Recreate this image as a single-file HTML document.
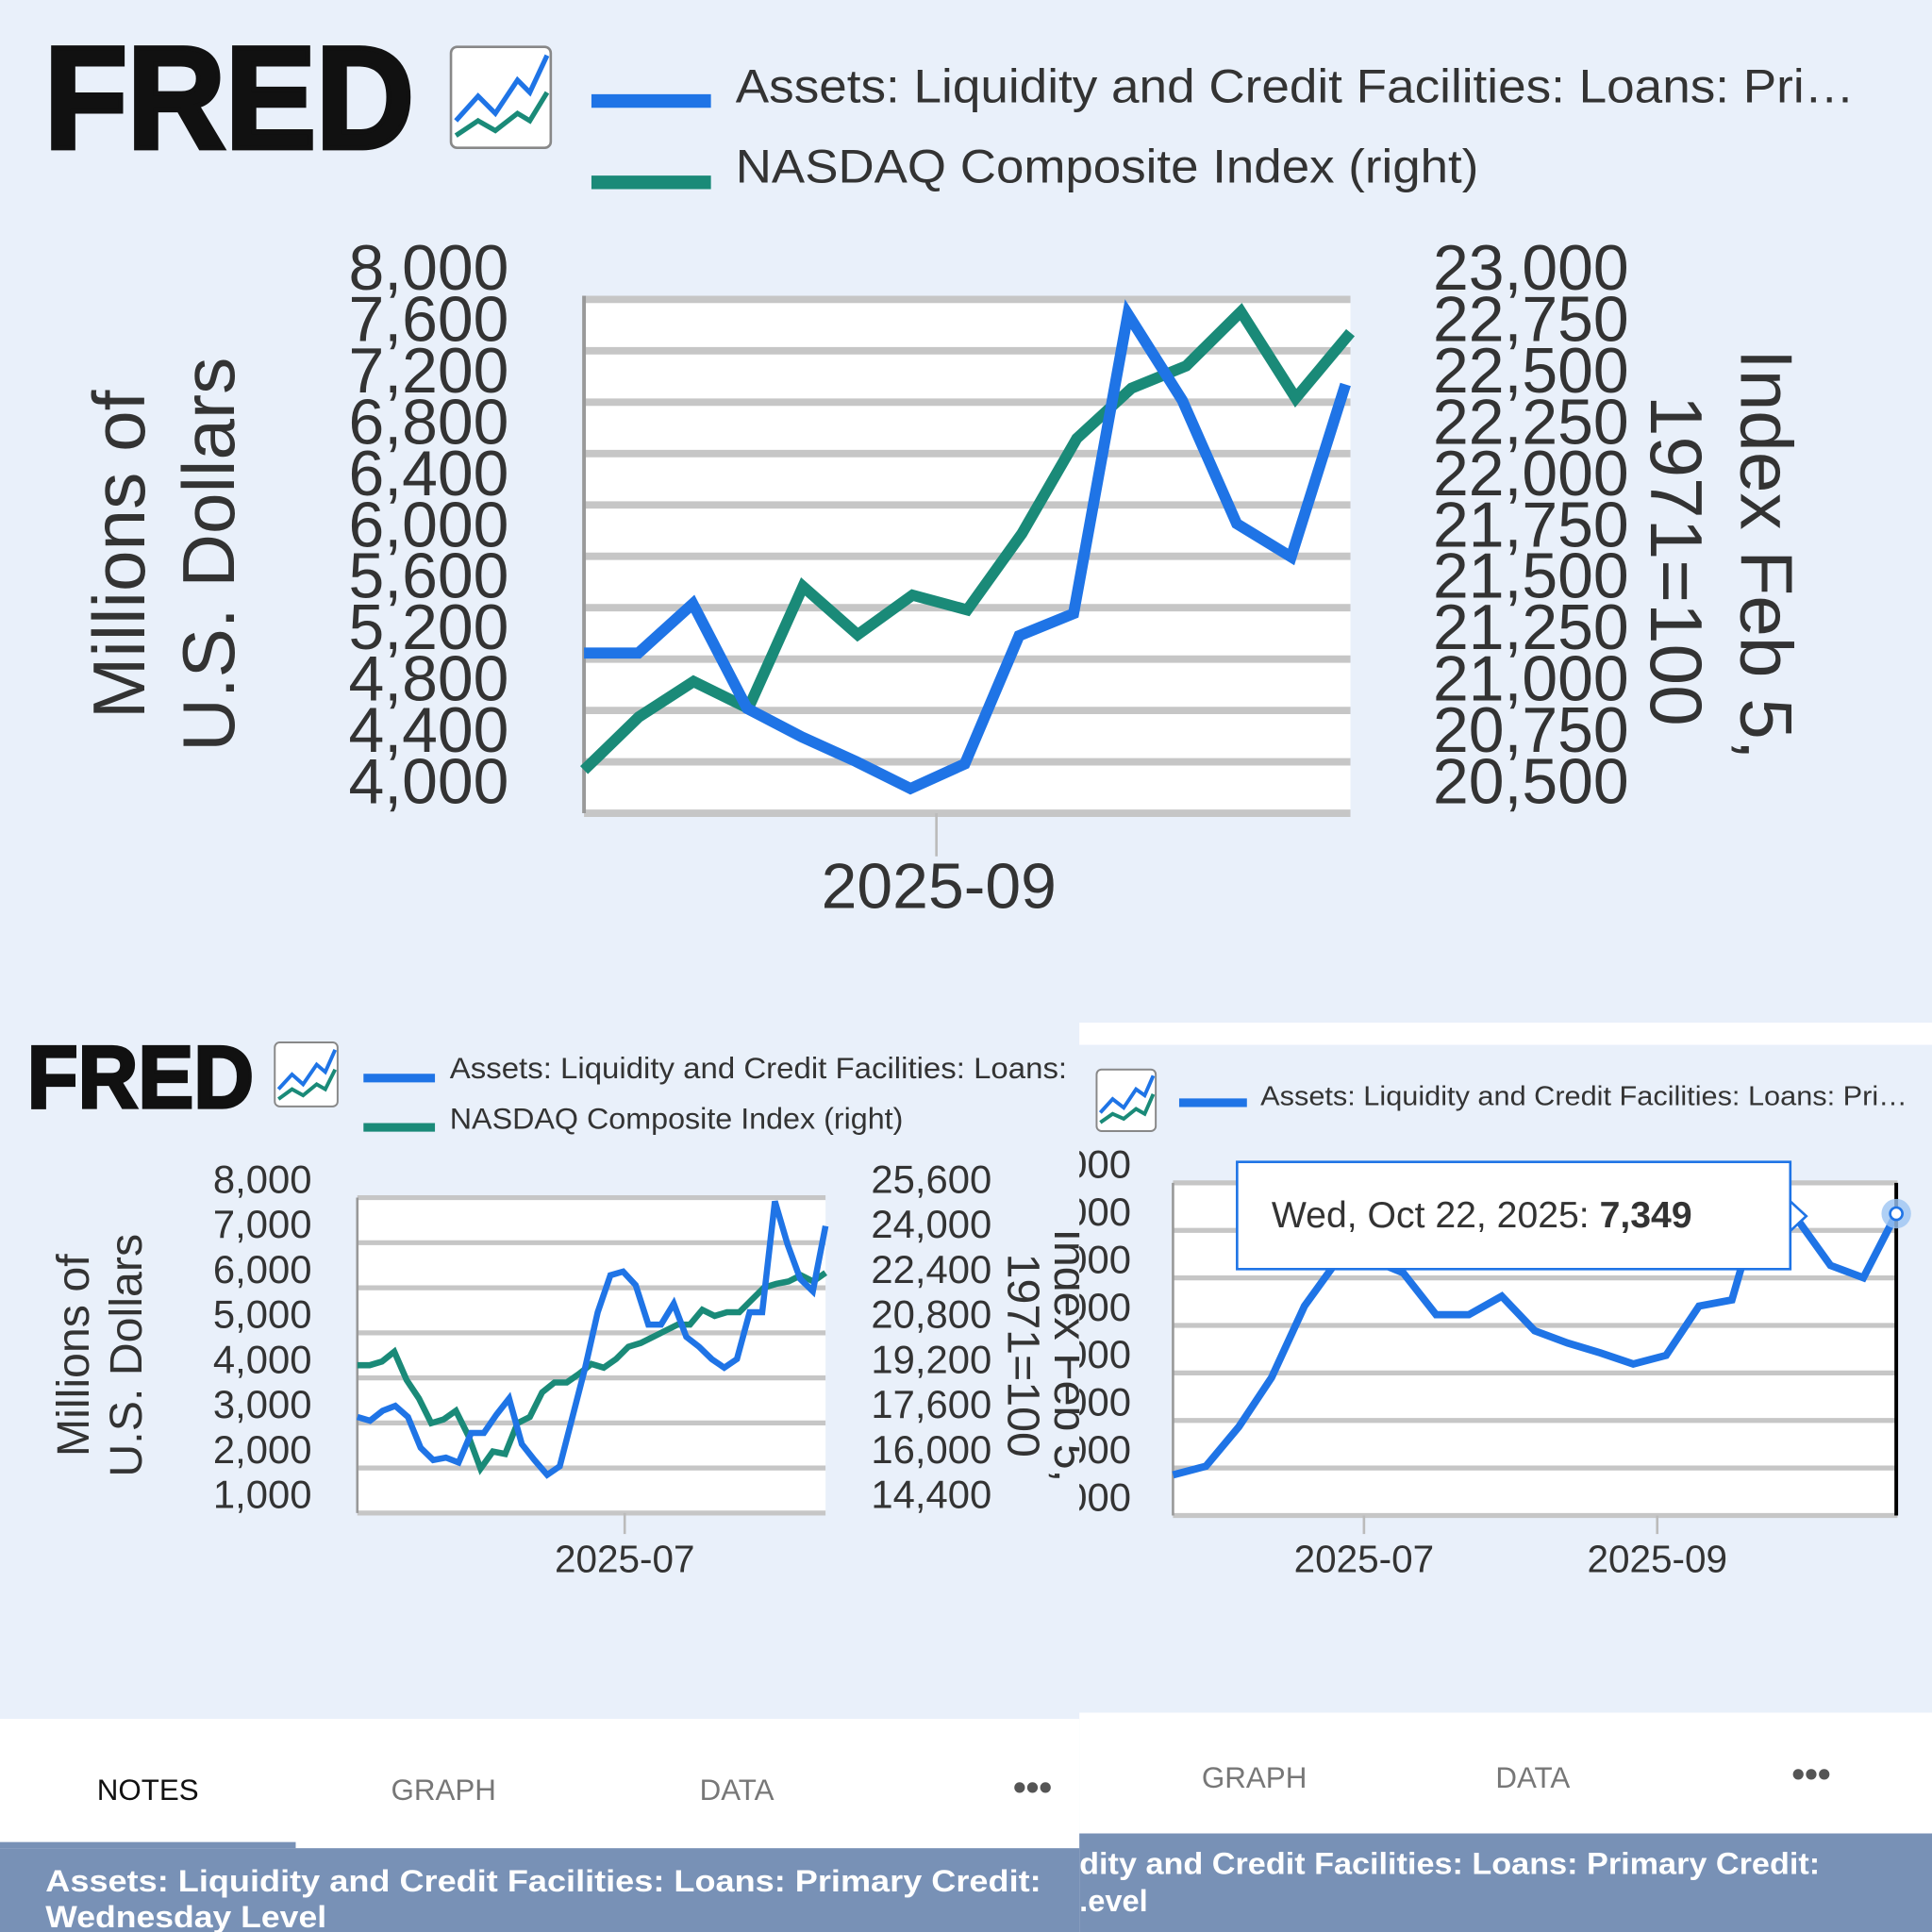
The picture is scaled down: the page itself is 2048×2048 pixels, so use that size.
<!DOCTYPE html>
<html><head><meta charset="utf-8">
<style>
html,body{margin:0;padding:0;background:#e9f0fa;}
svg{display:block;font-family:"Liberation Sans",sans-serif;}
</style></head>
<body>
<svg id="s" width="2048" height="2048" viewBox="0 0 1568 1568" xmlns="http://www.w3.org/2000/svg">
<defs><clipPath id="brClip"><rect x="876" y="830" width="692" height="560"/></clipPath></defs>
<rect x="0" y="0" width="1568" height="1568" fill="#e9f0fa"/>

<!-- TOP PANEL header -->
<text x="36" y="120" font-size="118" font-weight="bold" fill="#111" stroke="#111" stroke-width="4" textLength="300" lengthAdjust="spacingAndGlyphs">FRED</text>
<g>
<rect x="366" y="38" width="81" height="82" rx="5" fill="#fff" stroke="#888" stroke-width="2"/>
<polyline points="370,98 388,78 402,92 420,65 430,75 444,45" fill="none" stroke="#1f74e6" stroke-width="4"/>
<polyline points="370,110 388,98 402,106 420,92 430,98 444,75" fill="none" stroke="#1a8a78" stroke-width="4"/>
</g>
<g>
<line x1="480" y1="82" x2="577" y2="82" stroke="#1f74e6" stroke-width="11"/>
<text x="597" y="83" font-size="38" fill="#333" textLength="908" lengthAdjust="spacingAndGlyphs">Assets: Liquidity and Credit Facilities: Loans: Pri…</text>
<line x1="480" y1="148" x2="577" y2="148" stroke="#1f74e6" stroke-width="0"/>
<line x1="480" y1="148" x2="577" y2="148" stroke="#1a8a78" stroke-width="11"/>
<text x="597" y="148" font-size="38" fill="#333" textLength="603" lengthAdjust="spacingAndGlyphs">NASDAQ Composite Index (right)</text>
</g>
<rect x="474" y="240" width="622" height="420" fill="#fff"/>
<g id="topGrid"></g>
<line x1="474" y1="240" x2="474" y2="660" stroke="#999" stroke-width="3"/>
<line x1="760" y1="660" x2="760" y2="695" stroke="#bbb" stroke-width="2"/>
<text x="762" y="737" font-size="52" fill="#333" text-anchor="middle">2025-09</text>
<text transform="translate(117,450) rotate(-90)" font-size="60" fill="#333" text-anchor="middle">Millions of</text>
<text transform="translate(190,450) rotate(-90)" font-size="60" fill="#333" text-anchor="middle">U.S. Dollars</text>
<text transform="translate(1413,450) rotate(90)" font-size="60" fill="#333" text-anchor="middle">Index Feb 5,</text>
<text transform="translate(1340,455) rotate(90)" font-size="60" fill="#333" text-anchor="middle">1971=100</text>
<g id="topMarks"></g>

<!-- BOTTOM LEFT PANEL -->
<text x="22" y="899" font-size="72" font-weight="bold" fill="#111" stroke="#111" stroke-width="2.5" textLength="184" lengthAdjust="spacingAndGlyphs">FRED</text>
<g>
<rect x="223" y="846" width="51" height="52" rx="4" fill="#fff" stroke="#888" stroke-width="1.5"/>
<polyline points="226,884 237,872 246,880 257,864 264,870 272,852" fill="none" stroke="#1f74e6" stroke-width="3"/>
<polyline points="226,892 237,884 246,889 257,880 264,884 272,868" fill="none" stroke="#1a8a78" stroke-width="3"/>
</g>
<line x1="295" y1="875" x2="353" y2="875" stroke="#1f74e6" stroke-width="7"/>
<text x="365" y="875" font-size="24" fill="#333" textLength="501" lengthAdjust="spacingAndGlyphs">Assets: Liquidity and Credit Facilities: Loans:</text>
<line x1="295" y1="915" x2="353" y2="915" stroke="#1a8a78" stroke-width="7"/>
<text x="365" y="916" font-size="24" fill="#333" textLength="368" lengthAdjust="spacingAndGlyphs">NASDAQ Composite Index (right)</text>
<rect x="290" y="972" width="380" height="256" fill="#fff"/>
<g id="blGrid"></g>
<line x1="290" y1="972" x2="290" y2="1228" stroke="#999" stroke-width="2"/>
<line x1="507" y1="1228" x2="507" y2="1245" stroke="#bbb" stroke-width="2"/>
<text x="507" y="1276" font-size="31" fill="#333" text-anchor="middle">2025-07</text>
<text transform="translate(72,1100) rotate(-90)" font-size="37" fill="#333" text-anchor="middle">Millions of</text>
<text transform="translate(115,1100) rotate(-90)" font-size="37" fill="#333" text-anchor="middle">U.S. Dollars</text>
<text transform="translate(818,1100) rotate(90)" font-size="37" fill="#333" text-anchor="middle">1971=100</text>
<text transform="translate(856,1100) rotate(90)" font-size="37" fill="#333" text-anchor="middle">Index Feb 5,</text>
<g id="blMarks"></g>

<!-- BOTTOM RIGHT PANEL -->
<rect x="876" y="830" width="692" height="560" fill="#e9f0fa"/>
<rect x="876" y="830" width="692" height="18" fill="#fff"/>
<g>
<rect x="890" y="868" width="48" height="50" rx="4" fill="#fff" stroke="#888" stroke-width="1.5"/>
<polyline points="893,903 903,892 912,899 922,884 929,889 936,873" fill="none" stroke="#1f74e6" stroke-width="3"/>
<polyline points="893,911 903,904 912,908 922,900 929,904 936,888" fill="none" stroke="#1a8a78" stroke-width="3"/>
</g>
<line x1="957" y1="895" x2="1012" y2="895" stroke="#1f74e6" stroke-width="7"/>
<text x="1023" y="897" font-size="22" fill="#333" textLength="525" lengthAdjust="spacingAndGlyphs">Assets: Liquidity and Credit Facilities: Loans: Pri…</text>
<rect x="952" y="960" width="588" height="270" fill="#fff"/>
<g id="brGrid"></g>
<line x1="952" y1="960" x2="952" y2="1230" stroke="#999" stroke-width="2"/>
<line x1="1107" y1="1230" x2="1107" y2="1245" stroke="#bbb" stroke-width="2"/>
<line x1="1345" y1="1230" x2="1345" y2="1245" stroke="#bbb" stroke-width="2"/>
<text x="1107" y="1276" font-size="31" fill="#333" text-anchor="middle">2025-07</text>
<text x="1345" y="1276" font-size="31" fill="#333" text-anchor="middle">2025-09</text>
<g id="brMarks" clip-path="url(#brClip)"></g>
<line x1="1539" y1="960" x2="1539" y2="1230" stroke="#000" stroke-width="3"/>
<circle cx="1539" cy="985" r="12" fill="#9cc4f2" opacity="0.8"/>
<circle cx="1539" cy="985" r="5" fill="#fff" stroke="#1f74e6" stroke-width="2"/>
<g>
<rect x="1004" y="943" width="449" height="87" fill="#fff" stroke="#1f74e6" stroke-width="2"/>
<polygon points="1453,975 1466,987 1453,999" fill="#fff" stroke="#1f74e6" stroke-width="2"/>
<text x="1032" y="996" font-size="30" fill="#333">Wed, Oct 22, 2025:  <tspan font-weight="bold">7,349</tspan></text>
</g>

<!-- tabs -->
<rect x="0" y="1395" width="876" height="105" fill="#fff"/>
<text x="120" y="1461" font-size="24" fill="#111" text-anchor="middle">NOTES</text>
<text x="360" y="1461" font-size="24" fill="#777" text-anchor="middle">GRAPH</text>
<text x="598" y="1461" font-size="24" fill="#777" text-anchor="middle">DATA</text>
<text x="838" y="1461" font-size="30" fill="#555" text-anchor="middle" font-weight="bold">•••</text>
<rect x="876" y="1390" width="692" height="98" fill="#fff"/>
<text x="1018" y="1451" font-size="24" fill="#777" text-anchor="middle">GRAPH</text>
<text x="1244" y="1451" font-size="24" fill="#777" text-anchor="middle">DATA</text>
<text x="1470" y="1450" font-size="30" fill="#555" text-anchor="middle" font-weight="bold">•••</text>
<rect x="0" y="1500" width="876" height="68" fill="#7891b6"/>
<rect x="0" y="1495" width="240" height="5" fill="#7891b6"/>
<text x="37" y="1535" font-size="25" font-weight="bold" fill="#fff" textLength="808" lengthAdjust="spacingAndGlyphs">Assets: Liquidity and Credit Facilities: Loans: Primary Credit:</text>
<text x="37" y="1564" font-size="25" font-weight="bold" fill="#fff" textLength="228" lengthAdjust="spacingAndGlyphs">Wednesday Level</text>
<rect x="876" y="1488" width="692" height="80" fill="#7891b6"/>
<text x="876" y="1521" font-size="25" font-weight="bold" fill="#fff" textLength="601" lengthAdjust="spacingAndGlyphs">dity and Credit Facilities: Loans: Primary Credit:</text>
<text x="876" y="1551" font-size="25" font-weight="bold" fill="#fff">.evel</text>
</svg>
<script>
// ---- top chart data ----
const topLeftTicks = ["4,000","4,400","4,800","5,200","5,600","6,000","6,400","6,800","7,200","7,600","8,000"];
const topRightTicks = ["20,500","20,750","21,000","21,250","21,500","21,750","22,000","22,250","22,500","22,750","23,000"];
const topAssets = [5247,5247,5631,4815,4595,4403,4192,4384,5381,5554,7885,7213,6254,5995,7338];
const topNasdaq = [20710,20968,21141,21010,21603,21369,21561,21489,21861,22323,22568,22676,22940,22520,22838];
// ---- bottom-left data ----
const blLeftTicks = ["1,000","2,000","3,000","4,000","5,000","6,000","7,000","8,000"];
const blRightTicks = ["14,400","16,000","17,600","19,200","20,800","22,400","24,000","25,600"];
const blAssets = [3133,3051,3270,3379,3133,2450,2176,2230,2121,2777,2777,3187,3543,2531,2176,1848,2039,3133,4226,5457,6277,6359,6058,5183,5183,5648,4910,4691,4418,4226,4418,5457,5457,7917,6960,6195,5921,7370];
const blNasdaq = [19650,19650,19781,20131,19125,18469,17594,17725,18031,17156,15975,16588,16500,17594,17813,18688,19038,19038,19344,19694,19563,19869,20306,20438,20656,20875,21094,21094,21619,21400,21531,21531,21969,22406,22538,22625,22844,22625,22931];
// ---- bottom-right data ----
const brLeftTicks = ["1,000","2,000","3,000","4,000","5,000","6,000","7,000","8,000"];
const brAssets = [1855,2037,2867,3904,5407,6366,6392,6107,5226,5226,5615,4889,4630,4422,4189,4370,5407,5537,7922,7222,6263,6004,7349];

const NS="http://www.w3.org/2000/svg";
function mk(tag,parent){const e=document.createElementNS(NS,tag);parent.appendChild(e);return e;}
function scale(d0,d1,r0,r1){return v=>r0+(v-d0)/(d1-d0)*(r1-r0);}

function grid(gid,x0,x1,y0,y1,n,w){
  const g=document.getElementById(gid);
  for(let i=0;i<n;i++){
    const y=y1+(y0-y1)*i/(n-1);
    const l=mk('line',g);
    
    
    l.setAttribute('x1',x0);l.setAttribute('x2',x1);l.setAttribute('y1',y);l.setAttribute('y2',y);
    l.setAttribute('stroke','#c6c6c6');l.setAttribute('stroke-width',w);
  }
}
function ticks(gid,labels,x,y0,y1,anchor,fs,off){
  const g=document.getElementById(gid);
  labels.forEach((t,i)=>{
    const y=y0+(y1-y0)*i/(labels.length-1);
    const e=mk('text',g);
    
    
    e.setAttribute('x',x);e.setAttribute('y',y+off);
    e.setAttribute('font-size',fs);e.setAttribute('fill','#333');e.setAttribute('text-anchor',anchor);
    e.textContent=t;
  });
}
function line(gid,vals,x0,x1,ys,color,w,name){
  const g=document.getElementById(gid);
  const xs=scale(0,vals.length-1,x0,x1);
  const p=mk('polyline',g);
  
  
  p.setAttribute('points',vals.map((v,i)=>xs(i).toFixed(1)+','+ys(v).toFixed(1)).join(' '));
  p.setAttribute('fill','none');p.setAttribute('stroke',color);p.setAttribute('stroke-width',w);
  p.setAttribute('stroke-linejoin','miter');
}
// top
grid('topGrid',474,1096,243,660,11,6);
ticks('topMarks',topLeftTicks,413,660,243,'end',52,-8);
ticks('topMarks',topRightTicks,1322,660,243,'end',52,-8);
line('topMarks',topNasdaq,474,1096,scale(20500,23000,660,243),'#1a8a78',9,'nasdaq-line-top');
line('topMarks',topAssets,474,1092,scale(4000,8000,660,243),'#1f74e6',9,'assets-line-top');
// bottom-left
grid('blGrid',290,670,972,1228,8,4);
ticks('blMarks',blLeftTicks,253,1228,972,'end',32,-4);
ticks('blMarks',blRightTicks,707,1228,972,'start',32,-4);
line('blMarks',blNasdaq,290,670,scale(14400,25600,1228,972),'#1a8a78',5,'nasdaq-line-bl');
line('blMarks',blAssets,290,670,scale(1000,8000,1228,972),'#1f74e6',5,'assets-line-bl');
// bottom-right
grid('brGrid',952,1540,960,1230,8,4);
ticks('brMarks',brLeftTicks,918,1230,960,'end',32,-4);
line('brMarks',brAssets,952,1539,scale(1000,8000,1230,960),'#1f74e6',6,'assets-line-br');
</script>
</body></html>
